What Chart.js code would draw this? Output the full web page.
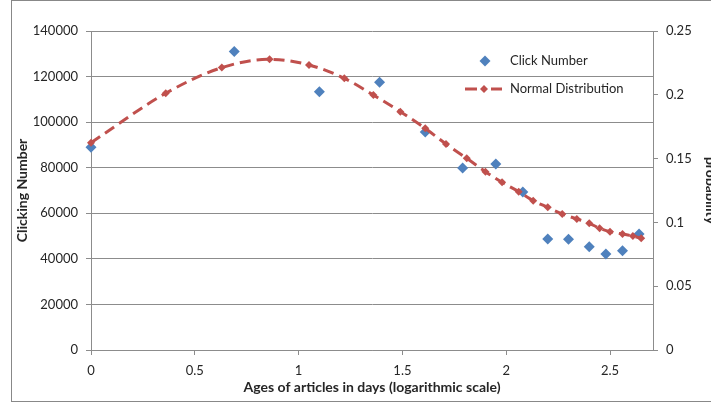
<!DOCTYPE html>
<html>
<head>
<meta charset="utf-8">
<script src="https://cdn.jsdelivr.net/npm/chart.js@4.4.1/dist/chart.umd.min.js"></script>
<style>
    html, body { margin: 0; padding: 0; background: #fff; overflow: hidden; }
    #wrap { width: 720px; height: 406px; }
</style>
</head>
<body>
<div id="wrap"><canvas id="ageChart" width="720" height="406"></canvas></div>
<script>
// Click Number (eje izquierdo)
const clickAges = [0, 0.69, 1.10, 1.39, 1.61, 1.79, 1.95, 2.08, 2.20, 2.30, 2.40, 2.48, 2.56, 2.64];
const clickValues = [89000, 131000, 113300, 117500, 95700, 79900, 81600, 69300, 48700, 48600, 45300, 42100, 43600, 50900];

// Normal Distribution (eje derecho)
const normalAges = [0, 0.36, 0.63, 0.86, 1.05, 1.22, 1.36, 1.49, 1.61, 1.71, 1.81, 1.90,
    1.98, 2.06, 2.13, 2.20, 2.27, 2.34, 2.40, 2.45, 2.50, 2.56, 2.61, 2.65];
const normalValues = [0.1625, 0.2012, 0.2213, 0.2278, 0.2234, 0.2129, 0.1998, 0.1868, 0.1737, 0.1614, 0.1502, 0.1397,
    0.1314, 0.1241, 0.1170, 0.1118, 0.1066, 0.1027, 0.0993, 0.0954, 0.0927, 0.0909, 0.0893, 0.0875];

const xTicks = [0, 0.5, 1, 1.5, 2, 2.5];
const leftTicks = [0, 20000, 40000, 60000, 80000, 100000, 120000, 140000];
const rightTicks = [0, 0.05, 0.1, 0.15, 0.2, 0.25];

const blue = '#4F81BD';
const red = '#C0504D';
const gridColor = '#8c8c8c';
const textColor = '#262626';
const fontFamily = 'Lato, "Open Sans", sans-serif';

function toPoints(xs, ys) {
    return xs.map(function (x, i) { return {x: x, y: ys[i]}; });
}

function diamond(ctx, x, y, r, color) {
    ctx.fillStyle = color;
    ctx.beginPath();
    ctx.moveTo(x - r, y);
    ctx.lineTo(x, y - r);
    ctx.lineTo(x + r, y);
    ctx.lineTo(x, y + r);
    ctx.closePath();
    ctx.fill();
}

// marco exterior y leyenda tipo Excel
const excelFrame = {
    id: 'excelFrame',
    beforeDraw: function (chart) {
        const ctx = chart.ctx;
        ctx.save();
        ctx.fillStyle = '#fff';
        ctx.fillRect(0, 0, chart.width, chart.height);
        ctx.strokeStyle = '#888';
        ctx.lineWidth = 1;
        ctx.strokeRect(11.5, 0.5, chart.width, 401);
        ctx.restore();
    },
    afterDraw: function (chart) {
        const ctx = chart.ctx;
        ctx.save();
        ctx.font = '13px ' + fontFamily;
        ctx.textBaseline = 'middle';

        // Click Number
        diamond(ctx, 485, 61, 5.5, blue);
        ctx.fillStyle = textColor;
        ctx.fillText('Click Number', 510, 61);

        // Normal Distribution
        ctx.strokeStyle = red;
        ctx.lineWidth = 3;
        ctx.beginPath();
        ctx.moveTo(465, 89); ctx.lineTo(477, 89);
        ctx.moveTo(491, 89); ctx.lineTo(502, 89);
        ctx.stroke();
        diamond(ctx, 484, 89, 4, red);
        ctx.fillStyle = textColor;
        ctx.fillText('Normal Distribution', 510, 89);
        ctx.restore();
    }
};

var ctxAge = document.getElementById('ageChart').getContext('2d');
var ageChart = new Chart(ctxAge, {
    type: 'scatter',
    data: {
        datasets: [{
            label: 'Click Number',
            data: toPoints(clickAges, clickValues),
            yAxisID: 'y',
            showLine: false,
            clip: false,
            pointStyle: 'rectRot',
            pointRadius: 5.5,
            pointBackgroundColor: blue,
            pointBorderWidth: 0,
            order: 1
        }, {
            label: 'Normal Distribution',
            data: toPoints(normalAges, normalValues),
            yAxisID: 'y1',
            showLine: true,
            clip: false,
            borderColor: red,
            borderWidth: 3,
            borderDash: [11, 6],
            cubicInterpolationMode: 'monotone',
            pointStyle: 'rectRot',
            pointRadius: 4,
            pointBackgroundColor: red,
            pointBorderWidth: 0,
            order: 0
        }]
    },
    options: {
        responsive: false,
        animation: false,
        devicePixelRatio: 1,
        layout: {
            padding: {top: 31, left: 0, right: 0, bottom: 0}
        },
        plugins: {
            legend: {display: false},
            tooltip: {enabled: false}
        },
        scales: {
            x: {
                type: 'linear',
                min: 0,
                max: 2.707,
                afterFit: function (scale) { scale.height = 56; },
                afterBuildTicks: function (scale) {
                    scale.ticks = xTicks.map(function (v) { return {value: v}; });
                },
                ticks: {
                    color: textColor,
                    padding: 8,
                    maxRotation: 0,
                    font: {family: fontFamily, size: 13},
                    callback: function (v) { return String(v); }
                },
                grid: {
                    drawOnChartArea: false,
                    drawTicks: true,
                    tickLength: 5,
                    color: gridColor
                },
                border: {color: gridColor},
                title: {
                    display: true,
                    text: 'Ages of articles in days (logarithmic scale)',
                    color: textColor,
                    padding: {top: 0, bottom: 10},
                    font: {family: fontFamily, size: 14, weight: 'bold'}
                }
            },
            y: {
                position: 'left',
                min: 0,
                max: 140000,
                afterFit: function (scale) { scale.width = 91; },
                afterBuildTicks: function (scale) {
                    scale.ticks = leftTicks.map(function (v) { return {value: v}; });
                },
                ticks: {
                    color: textColor,
                    padding: 8,
                    font: {family: fontFamily, size: 13},
                    callback: function (v) { return String(v); }
                },
                grid: {
                    color: gridColor,
                    tickLength: 5
                },
                border: {color: gridColor},
                title: {
                    display: true,
                    text: 'Clicking Number',
                    color: textColor,
                    padding: {top: 14, bottom: 0},
                    font: {family: fontFamily, size: 14, weight: 'bold'}
                }
            },
            y1: {
                position: 'right',
                min: 0,
                max: 0.25,
                afterFit: function (scale) { scale.width = 67; },
                afterBuildTicks: function (scale) {
                    scale.ticks = rightTicks.map(function (v) { return {value: v}; });
                },
                ticks: {
                    color: textColor,
                    padding: 8,
                    font: {family: fontFamily, size: 13},
                    callback: function (v) { return String(Math.round(v * 100) / 100); }
                },
                grid: {
                    drawOnChartArea: false,
                    color: gridColor,
                    tickLength: 5
                },
                border: {color: gridColor},
                title: {
                    display: true,
                    text: 'probability',
                    color: textColor,
                    padding: {top: 1, bottom: 0},
                    font: {family: fontFamily, size: 14, weight: 'bold'}
                }
            }
        }
    },
    plugins: [excelFrame]
});
</script>
</body>
</html>
